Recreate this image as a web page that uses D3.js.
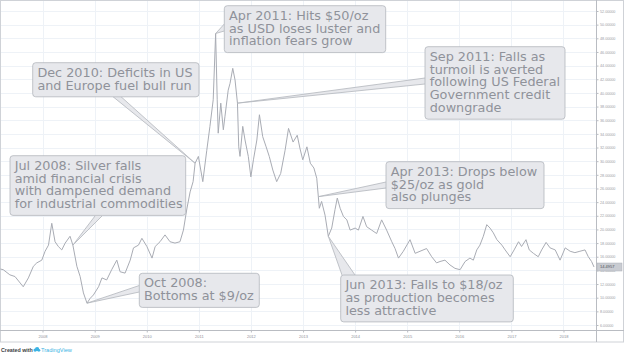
<!DOCTYPE html>
<html>
<head>
<meta charset="utf-8">
<script src="https://cdn.jsdelivr.net/npm/d3@7"></script>
<style>
html, body { margin: 0; padding: 0; background: #fff; }
svg { display: block; }
</style>
</head>
<body>
<script>
// silver price
const dates = [
  "2007-03-12", "2007-04-01", "2007-05-17", "2007-06-22", "2007-08-19", "2007-09-24", "2007-10-29", "2007-11-22", "2007-12-27",
  "2008-01-19", "2008-02-12", "2008-03-06", "2008-03-29", "2008-04-21", "2008-05-15", "2008-06-08", "2008-07-12", "2008-08-01",
  "2008-08-29", "2008-09-21", "2008-10-14", "2008-11-08", "2008-11-30", "2008-12-23",
  "2009-01-28", "2009-02-21", "2009-03-26", "2009-04-30", "2009-06-05", "2009-06-28", "2009-08-02", "2009-09-07", "2009-09-30",
  "2009-11-04", "2009-11-28",
  "2010-01-02", "2010-02-07", "2010-03-01", "2010-04-04", "2010-05-09", "2010-06-13", "2010-07-18", "2010-08-22", "2010-09-15",
  "2010-10-09", "2010-11-01", "2010-11-22", "2010-12-06", "2010-12-29",
  "2011-01-29", "2011-02-26", "2011-03-20", "2011-04-12", "2011-04-29", "2011-05-10", "2011-05-17", "2011-06-04", "2011-06-22",
  "2011-07-03", "2011-07-26", "2011-08-08", "2011-08-27", "2011-09-12", "2011-09-29", "2011-10-08", "2011-10-17", "2011-11-05",
  "2011-11-21", "2011-12-14",
  "2012-01-01", "2012-01-19", "2012-02-12", "2012-03-01", "2012-03-24", "2012-04-17", "2012-05-09", "2012-06-03", "2012-06-30",
  "2012-07-28", "2012-08-28", "2012-09-21", "2012-10-23", "2012-11-21", "2012-12-11", "2012-12-30",
  "2013-01-28", "2013-02-21", "2013-03-18", "2013-04-07", "2013-04-18", "2013-04-25", "2013-05-11", "2013-06-04", "2013-06-27",
  "2013-07-21", "2013-08-13", "2013-08-29", "2013-09-18", "2013-10-11", "2013-11-04", "2013-11-27",
  "2014-01-01", "2014-01-24", "2014-02-25", "2014-03-23", "2014-04-27", "2014-06-01", "2014-07-06", "2014-08-10", "2014-09-15",
  "2014-10-08", "2014-11-01", "2014-12-05",
  "2015-01-21", "2015-02-26", "2015-04-01", "2015-05-17", "2015-06-22", "2015-07-26", "2015-08-19", "2015-09-23", "2015-10-28",
  "2015-12-02",
  "2016-01-07", "2016-02-11", "2016-03-16", "2016-04-09", "2016-05-03", "2016-05-25", "2016-06-18", "2016-07-12", "2016-08-04",
  "2016-08-27", "2016-09-21", "2016-10-26", "2016-11-18", "2016-12-23",
  "2017-01-20", "2017-02-20", "2017-03-13", "2017-04-13", "2017-05-06", "2017-06-04", "2017-07-08", "2017-08-01", "2017-09-01",
  "2017-09-29", "2017-11-04", "2017-12-08",
  "2018-01-13", "2018-02-17", "2018-03-22", "2018-04-26", "2018-06-01", "2018-06-24", "2018-07-17", "2018-08-03"
];
const prices = [
  14.2, 14.1, 13.35, 13.1, 11.6, 12.9, 14.6, 15.1, 15.5,
  16.8, 17.7, 20.9, 18.2, 17.5, 17.0, 18.0, 19.0, 17.7,
  14.6, 13.1, 10.7, 9.2, 9.9, 10.4,
  11.6, 12.9, 12.6, 14.1, 15.5, 13.8, 13.6, 15.5, 17.3,
  17.7, 18.7,
  17.5, 15.8, 17.5, 18.2, 19.2, 18.2, 18.0, 18.2, 19.9,
  23.0, 25.5, 27.0, 29.7, 30.7,
  27.0, 31.6, 35.1, 39.0, 48.7, 39.0, 34.1, 38.5, 34.6,
  36.5, 40.4, 41.4, 43.6, 41.9, 38.5, 32.1, 30.7, 35.1,
  33.1, 30.7,
  27.7, 30.2, 33.1, 36.8, 33.6, 32.1, 30.7, 28.7, 27.0,
  28.2, 31.6, 34.8, 32.8, 33.8, 31.8, 30.2,
  32.1, 29.7, 29.0, 27.5, 24.8, 23.1, 24.1, 22.1, 19.0,
  20.2, 22.9, 24.6, 23.1, 21.9, 21.4, 19.9,
  20.2, 19.9, 21.9, 20.4, 19.9, 19.4, 21.4, 19.9, 18.2,
  17.2, 15.8, 16.8,
  18.5, 16.5, 16.8, 17.2, 16.0, 15.1, 15.3, 15.5, 14.8,
  14.3,
  14.1, 15.3, 15.8, 15.5, 17.0, 17.7, 19.0, 20.7, 20.2,
  19.5, 18.5, 17.7, 17.0, 16.0,
  17.0, 18.2, 17.5, 18.5, 17.0, 16.5, 16.0, 17.0, 18.1,
  17.3, 17.0, 15.5,
  17.3, 16.8, 16.6, 16.8, 17.0, 16.0, 15.3, 14.5
];
const lastPrice = 14.4957;
const priceTicks = d3.range(6, 53, 2);
const yearTicks = [2008, 2009, 2010, 2011, 2012, 2013, 2014, 2015, 2016, 2017, 2018];

// annotations
const noteLines = [
  ["Jul 2008: Silver falls", "amid financial crisis", "with dampened demand", "for industrial commodities"],
  ["Oct 2008:", "Bottoms at $9/oz"],
  ["Dec 2010: Deficits in US", "and Europe fuel bull run"],
  ["Apr 2011: Hits $50/oz", "as USD loses luster and", "inflation fears grow"],
  ["Sep 2011: Falls as", "turmoil is averted", "following US Federal", "Government credit", "downgrade"],
  ["Apr 2013: Drops below", "$25/oz as gold", "also plunges"],
  ["Jun 2013: Falls to $18/oz", "as production becomes", "less attractive"]
];
const noteDates = ["2008-08-01", "2008-11-08", "2010-12-06", "2011-04-29", "2011-09-29", "2013-04-18", "2013-06-27"];
const noteValues = [17.7, 9.2, 29.7, 48.7, 38.5, 24.8, 19.0];

// box placement and where each tail leaves its box
const noteBoxes = [
  {x: 10, y: 155.7, w: 175.7, tail: [[95, 216], [102, 216]]},
  {x: 139.3, y: 273.3, w: 120, tail: [[139.3, 285.5], [139.3, 292]]},
  {x: 32.7, y: 62.7, w: 166.3, tail: [[113, 96.7], [121, 96.7]]},
  {x: 224.3, y: 5.7, w: 161.4, tail: [[224.3, 24], [224.3, 31]]},
  {x: 425, y: 46.7, w: 140, tail: [[425, 78], [425, 84]]},
  {x: 386, y: 161.7, w: 158, tail: [[386, 182], [386, 188]]},
  {x: 340.7, y: 275, w: 172.6, tail: [[342, 275], [355, 275]]}
];

let width = 624, height = 354;
let plotW = 596, axisY = 330.5, bottomY = 342;

let svg = d3.select('body').append('svg')
    .attr('width', width)
    .attr('height', height);

let parse = d3.timeParse('%Y-%m-%d');
let series = dates.map((d, i) => ({date: parse(d), value: prices[i]}));

let x = d3.scaleTime()
    .domain([parse('2007-03-09'), parse('2018-08-17')])
    .range([0, plotW]);
let y = d3.scaleLinear()
    .domain([6, 52])
    .range([325, 11]);

// grid
let grid = svg.append('g').attr('class', 'grid');
grid.selectAll('.hgrid').data(priceTicks).join('line')
    .attr('class', 'hgrid')
    .attr('x1', 0).attr('x2', plotW)
    .attr('y1', d => Math.round(y(d)) + 0.5)
    .attr('y2', d => Math.round(y(d)) + 0.5)
    .style('stroke', '#eef2f7');
grid.selectAll('.vgrid').data(yearTicks).join('line')
    .attr('class', 'vgrid')
    .attr('x1', d => Math.round(x(new Date(d, 0, 1))) + 0.5)
    .attr('x2', d => Math.round(x(new Date(d, 0, 1))) + 0.5)
    .attr('y1', 0).attr('y2', axisY)
    .style('stroke', '#eef2f7');

// frame
svg.append('rect')
    .attr('x', 0.5).attr('y', 0.5)
    .attr('width', width - 1).attr('height', bottomY - 0.5)
    .style('fill', 'none')
    .style('stroke', '#cfd2d7');
svg.append('line')
    .attr('x1', 0).attr('x2', width)
    .attr('y1', axisY).attr('y2', axisY)
    .style('stroke', '#b9bcc2');
svg.append('line')
    .attr('x1', plotW + 0.5).attr('x2', plotW + 0.5)
    .attr('y1', 0).attr('y2', bottomY)
    .style('stroke', '#b9bcc2');

// price line
let line = d3.line()
    .x(d => x(d.date))
    .y(d => y(d.value));
svg.append('path')
    .datum(series)
    .attr('d', line)
    .style('fill', 'none')
    .style('stroke', '#a9acb4')
    .style('stroke-width', 1)
    .style('stroke-linejoin', 'round');

// right price axis
let yAxis = svg.append('g')
    .attr('transform', 'translate(' + (plotW + 0.5) + ',0)')
    .call(d3.axisRight(y)
        .tickValues(priceTicks)
        .tickSize(2)
        .tickPadding(1.5)
        .tickFormat(d3.format('.5f')));
yAxis.select('.domain').remove();
yAxis.selectAll('line').style('stroke', '#b9bcc2');
yAxis.selectAll('text')
    .style('font-family', 'Liberation Sans, Arial, sans-serif')
    .style('font-size', '3.7px')
    .style('fill', '#9a9da5');

// last price label
let lp = svg.append('g').attr('transform', 'translate(' + (plotW + 1) + ',' + y(lastPrice) + ')');
lp.append('rect')
    .attr('x', 0).attr('y', -4)
    .attr('width', 25).attr('height', 8)
    .style('fill', '#c9ccd2')
    .style('stroke', '#aeb1b8')
    .style('stroke-width', 0.5);
lp.append('text')
    .attr('x', 3).attr('y', 1.4)
    .text(lastPrice.toFixed(4))
    .style('font-family', 'Liberation Sans, Arial, sans-serif')
    .style('font-size', '4px')
    .style('fill', '#4d5058');

// bottom time axis
let xAxis = svg.append('g')
    .attr('transform', 'translate(0,' + axisY + ')')
    .call(d3.axisBottom(x)
        .tickValues(yearTicks.map(yr => new Date(yr, 0, 1)))
        .tickSize(2)
        .tickPadding(2.5)
        .tickFormat(d3.timeFormat('%Y')));
xAxis.select('.domain').remove();
xAxis.selectAll('line').style('stroke', '#b9bcc2');
xAxis.selectAll('text')
    .style('font-family', 'Liberation Sans, Arial, sans-serif')
    .style('font-size', '4px')
    .style('fill', '#8e9199');

// annotations
let notes = svg.append('g').attr('class', 'notes');
let lineH = 12.8;
noteLines.forEach((lines, i) => {
    let box = noteBoxes[i];
    let h = 8.5 + lineH * lines.length;
    let ax = x(parse(noteDates[i])), ay = y(noteValues[i]);
    let g = notes.append('g');
    g.append('path')
        .attr('d', d3.line()([box.tail[0], [ax, ay], box.tail[1]]))
        .style('fill', '#e7e8ec')
        .style('stroke', '#b3b6bd')
        .style('stroke-width', 0.8);
    g.append('rect')
        .attr('x', box.x).attr('y', box.y)
        .attr('width', box.w).attr('height', h)
        .attr('rx', 3)
        .style('fill', '#e7e8ec')
        .style('stroke', '#b3b6bd')
        .style('stroke-width', 0.8);
    g.append('text')
        .style('font-family', 'DejaVu Sans, sans-serif')
        .style('font-size', '12.8px')
        .style('fill', '#8f929a')
        .selectAll('tspan').data(lines).join('tspan')
        .attr('x', box.x + 4.7)
        .attr('y', (d, j) => box.y + 14 + j * lineH)
        .text(d => d);
});

// footer
let foot = svg.append('g').attr('transform', 'translate(1,351.5)');
foot.append('text')
    .text('Created with')
    .style('font-family', 'Liberation Sans, Arial, sans-serif')
    .style('font-size', '5.3px')
    .style('font-weight', 'bold')
    .style('fill', '#3a3d44');
let logo = foot.append('g').attr('transform', 'translate(32.5,-2)');
logo.append('circle').attr('cx', 1.6).attr('cy', 0.6).attr('r', 1.6).style('fill', '#3bb3e4');
logo.append('circle').attr('cx', 3.6).attr('cy', -0.4).attr('r', 2.1).style('fill', '#3bb3e4');
logo.append('circle').attr('cx', 5.4).attr('cy', 0.8).attr('r', 1.4).style('fill', '#3bb3e4');
foot.append('text')
    .attr('x', 40)
    .text('TradingView')
    .style('font-family', 'Liberation Sans, Arial, sans-serif')
    .style('font-size', '5.6px')
    .style('fill', '#3bb3e4');
</script>
</body>
</html>
